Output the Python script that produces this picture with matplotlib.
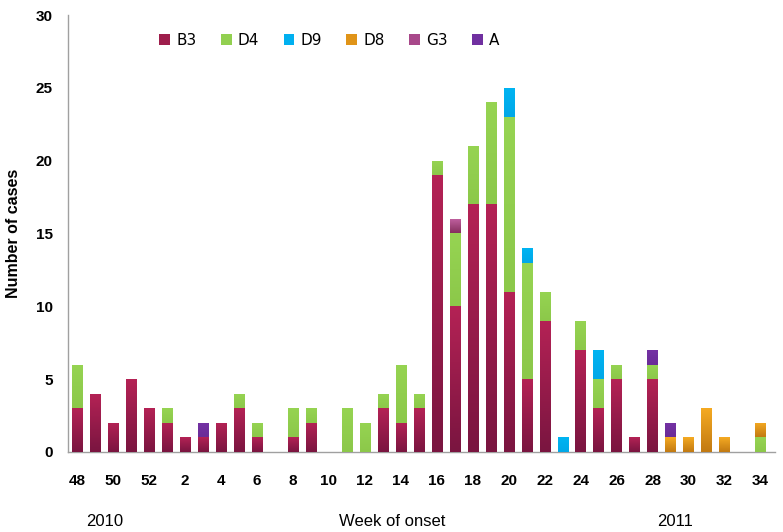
import matplotlib
matplotlib.use("Agg")
import matplotlib.pyplot as plt
import numpy as np
from matplotlib.colors import LinearSegmentedColormap
from matplotlib.patches import Patch

weeks = [48, 49, 50, 51, 52] + list(range(1, 35))
B3 = [3, 4, 2, 5, 3, 2, 1, 1, 2, 3, 1, 0, 1, 2, 0, 0, 0, 3, 2, 3,
      19, 10, 17, 17, 11, 5, 9, 0, 7, 3, 5, 1, 5, 0, 0, 0, 0, 0, 0]
D4 = [3, 0, 0, 0, 0, 1, 0, 0, 0, 1, 1, 0, 2, 1, 0, 3, 2, 1, 4, 1,
      1, 5, 4, 7, 12, 8, 2, 0, 2, 2, 1, 0, 1, 0, 0, 0, 0, 0, 1]
D9 = [0] * 24 + [2, 1, 0, 1, 0, 2, 0, 0, 0, 0, 0, 0, 0, 0, 0]
D8 = [0] * 33 + [1, 1, 3, 1, 0, 1]
G3 = [0] * 21 + [1] + [0] * 17
A = [0, 0, 0, 0, 0, 0, 0, 1] + [0] * 24 + [1, 1] + [0] * 5
series_names = ["B3", "D4", "D9", "D8", "G3", "A"]
tick_weeks = [48, 50, 52, 2, 4, 6, 8, 10, 12, 14, 16, 18, 20, 22, 24, 26, 28, 30, 32, 34]
yticks = [0, 5, 10, 15, 20, 25, 30]

series = [B3, D4, D9, D8, G3, A]
# (top colour, bottom colour)
grads = [("#B42255", "#7A1540"), ("#96D452", "#8CC84A"), ("#00B4F2", "#00A8E8"),
         ("#F5AA22", "#C27A12"), ("#C262A2", "#86305E"), ("#7432A4", "#6A2C98")]
legend_cols = ["#9E1E4C", "#92D050", "#00B0F0", "#E09418", "#A8488A", "#7030A0"]

fig = plt.figure(figsize=(7.83, 5.32), dpi=100)
ax = fig.add_axes([0.0868, 0.1504, 0.9030, 0.8214])
x = np.arange(len(weeks))
width = 0.58
ax.set_xlim(-0.5, 38.8)
ax.set_ylim(0, 30)

bottom = np.zeros(len(weeks))
for vals, (ctop, cbot), name, lc in zip(series, grads, series_names, legend_cols):
    vals = np.array(vals, dtype=float)
    bars = ax.bar(x, vals, width, bottom=bottom, color=lc, linewidth=0, zorder=2)
    cmap = LinearSegmentedColormap.from_list("g", [cbot, ctop])
    grad = np.linspace(1, 0, 64).reshape(-1, 1)
    for b, v in zip(bars, vals):
        if v <= 0:
            continue
        x0, y0 = b.get_x(), b.get_y()
        im = ax.imshow(grad, cmap=cmap, extent=(x0, x0 + width, y0, y0 + v),
                       aspect="auto", zorder=3, interpolation="bilinear")
        im.set_clip_path(b)
    bottom += vals

ax.set_xlim(-0.5, 38.8)
ax.set_ylim(0, 30)
ax.set_aspect("auto")

for s in ["top", "right"]:
    ax.spines[s].set_visible(False)
for s in ["left", "bottom"]:
    ax.spines[s].set_color("#A0A0A0")
    ax.spines[s].set_linewidth(1.0)

fam = ["Liberation Sans Narrow", "Liberation Sans", "DejaVu Sans"]
ax.set_xticks([weeks.index(w) for w in tick_weeks])
ax.set_xticklabels([str(w) for w in tick_weeks], fontfamily=fam, fontweight="bold", fontsize=11)
ax.set_yticks(yticks)
ax.set_yticklabels([str(v) for v in yticks], fontfamily=fam, fontweight="bold", fontsize=11)
ax.tick_params(axis="x", length=0, pad=16)
ax.tick_params(axis="y", length=0, pad=11)
ax.set_ylabel("Number of cases", fontfamily=fam, fontweight="bold", fontsize=11.5)
ax.yaxis.set_label_coords(-0.066, 0.5)

fig.text(105 / 783, 1 - 521 / 532, "2010", ha="center", va="center", fontfamily=fam, fontsize=12)
fig.text(392 / 783, 1 - 521 / 532, "Week of onset", ha="center", va="center", fontfamily=fam, fontsize=12)
fig.text(675 / 783, 1 - 521 / 532, "2011", ha="center", va="center", fontfamily=fam, fontsize=12)

handles = [Patch(facecolor=c, edgecolor="none") for c in legend_cols]
ax.legend(handles, series_names, loc="upper left", bbox_to_anchor=(0.11, 0.99), ncol=6,
          frameon=False, fontsize=11, handlelength=0.7, handleheight=0.7,
          handletextpad=0.4, columnspacing=1.6)

fig.savefig("out.png", dpi=100)
